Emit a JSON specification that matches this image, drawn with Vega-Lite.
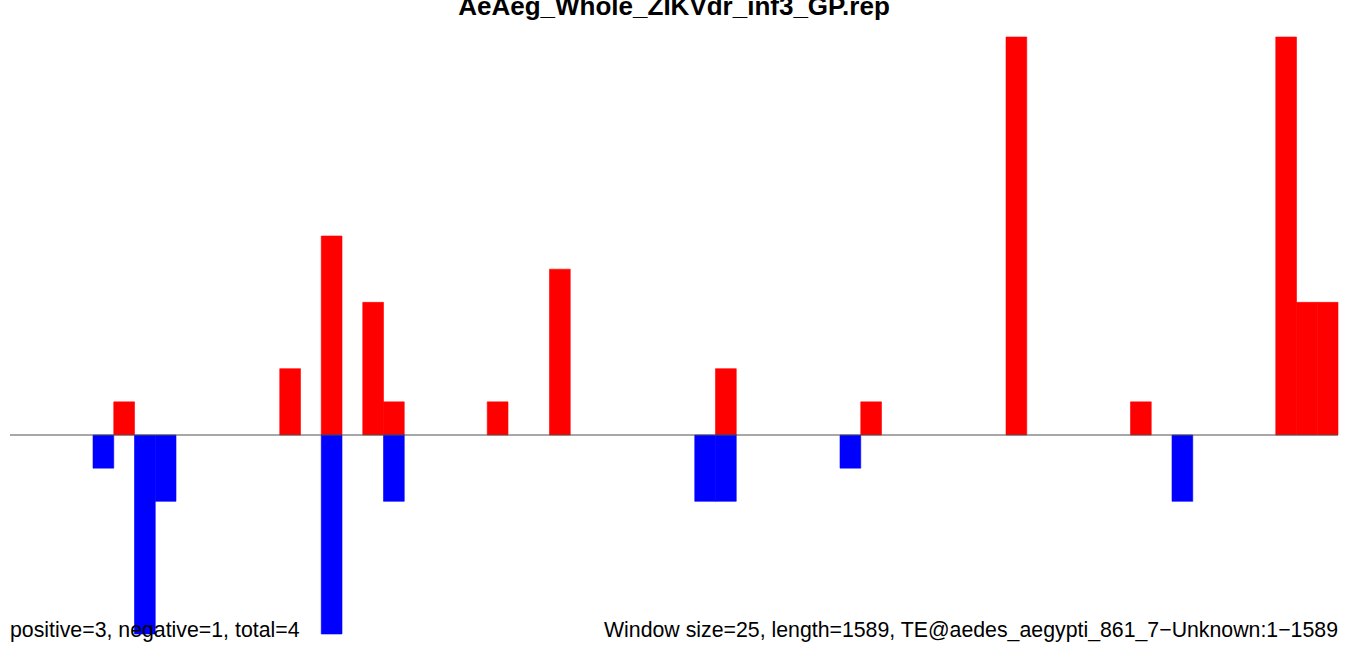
{
  "$schema": "https://vega.github.io/schema/vega-lite/v6.json",
  "autosize": {"type": "none"},
  "padding": {"top": 37, "left": 10, "right": 12, "bottom": 16},
  "width": 1328,
  "height": 597,
  "background": "white",
  "config": {"view": {"stroke": null}},
  "title": {
    "text": "AeAeg_Whole_ZIKVdr_inf3_GP.rep",
    "font": "Liberation Sans",
    "fontSize": 26,
    "fontWeight": "bold",
    "color": "black",
    "anchor": "middle",
    "frame": "group",
    "baseline": "alphabetic",
    "offset": -4
  },
  "datasets": {
    "bins": [
      {"start": 100, "end": 125, "value": -1, "strand": "neg"},
      {"start": 125, "end": 150, "value": 1, "strand": "pos"},
      {"start": 150, "end": 175, "value": -6, "strand": "neg"},
      {"start": 175, "end": 200, "value": -2, "strand": "neg"},
      {"start": 325, "end": 350, "value": 2, "strand": "pos"},
      {"start": 375, "end": 400, "value": 6, "strand": "pos"},
      {"start": 375, "end": 400, "value": -6, "strand": "neg"},
      {"start": 425, "end": 450, "value": 4, "strand": "pos"},
      {"start": 450, "end": 475, "value": 1, "strand": "pos"},
      {"start": 450, "end": 475, "value": -2, "strand": "neg"},
      {"start": 575, "end": 600, "value": 1, "strand": "pos"},
      {"start": 650, "end": 675, "value": 5, "strand": "pos"},
      {"start": 825, "end": 850, "value": -2, "strand": "neg"},
      {"start": 850, "end": 875, "value": 2, "strand": "pos"},
      {"start": 850, "end": 875, "value": -2, "strand": "neg"},
      {"start": 1000, "end": 1025, "value": -1, "strand": "neg"},
      {"start": 1025, "end": 1050, "value": 1, "strand": "pos"},
      {"start": 1200, "end": 1225, "value": 12, "strand": "pos"},
      {"start": 1350, "end": 1375, "value": 1, "strand": "pos"},
      {"start": 1400, "end": 1425, "value": -2, "strand": "neg"},
      {"start": 1525, "end": 1550, "value": 12, "strand": "pos"},
      {"start": 1550, "end": 1575, "value": 4, "strand": "pos"},
      {"start": 1575, "end": 1600, "value": 4, "strand": "pos"}
    ],
    "baseline": [{"y": 0}],
    "left": [{"label": "positive=3, negative=1, total=4"}],
    "right": [{"label": "Window size=25, length=1589, TE@aedes_aegypti_861_7−Unknown:1−1589"}]
  },
  "layer": [
    {
      "data": {"name": "bins"},
      "mark": {"type": "rect", "strokeWidth": 0.6},
      "encoding": {
        "x": {"field": "start", "type": "quantitative", "scale": {"domain": [0, 1600], "nice": false, "zero": false}, "axis": null},
        "x2": {"field": "end"},
        "y": {"field": "value", "type": "quantitative", "scale": {"domain": [-6, 12], "nice": false}, "axis": null},
        "y2": {"datum": 0},
        "color": {"field": "strand", "type": "nominal", "scale": {"domain": ["pos", "neg"], "range": ["#FF0000", "#0000FF"]}, "legend": null},
        "stroke": {"field": "strand", "type": "nominal", "scale": {"domain": ["pos", "neg"], "range": ["#FF0000", "#0000FF"]}, "legend": null}
      }
    },
    {
      "data": {"name": "baseline"},
      "mark": {"type": "rule", "color": "#505050", "strokeWidth": 1},
      "encoding": {
        "y": {"field": "y", "type": "quantitative"},
        "x": {"datum": 0},
        "x2": {"datum": 1600}
      }
    },
    {
      "data": {"name": "left"},
      "mark": {"type": "text", "align": "left", "baseline": "alphabetic", "dy": 3, "font": "Liberation Sans", "fontSize": 21.3, "color": "black"},
      "encoding": {
        "x": {"datum": 0},
        "y": {"datum": -6},
        "text": {"field": "label"}
      }
    },
    {
      "data": {"name": "right"},
      "mark": {"type": "text", "align": "right", "baseline": "alphabetic", "dy": 3, "font": "Liberation Sans", "fontSize": 21.3, "color": "black"},
      "encoding": {
        "x": {"datum": 1600},
        "y": {"datum": -6},
        "text": {"field": "label"}
      }
    }
  ]
}
